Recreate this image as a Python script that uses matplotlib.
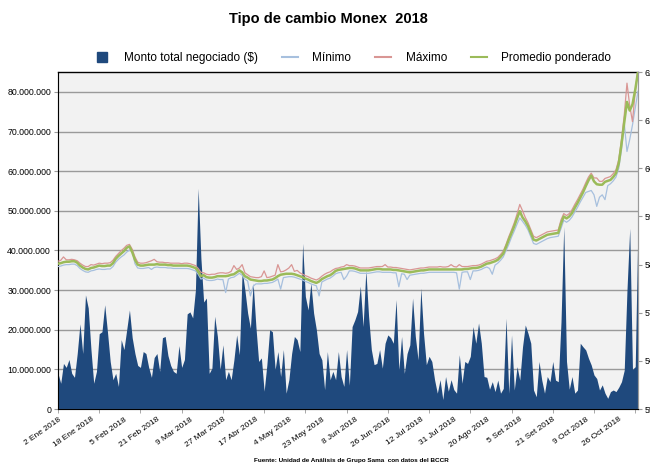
import numpy as np
import matplotlib
matplotlib.use('Agg')
import matplotlib.pyplot as plt
from matplotlib.lines import Line2D
from matplotlib.ticker import FuncFormatter, MultipleLocator

plt.rcParams['font.family'] = ['Liberation Sans', 'DejaVu Sans']

# Monto total negociado (millones de $), una entrada por día hábil
monto = [
    9.0, 6.5, 11.5, 10.5, 12.5, 9.0, 8.0, 14.0, 21.5, 14.0,
    28.8, 25.5, 15.0, 6.5, 9.5, 19.0, 19.5, 26.3, 19.5, 12.0,
    7.4, 9.0, 5.7, 17.5, 15.0, 20.0, 25.0, 18.0, 14.0, 11.0,
    10.5, 14.5, 14.0, 10.5, 8.0, 13.0, 14.0, 9.5, 18.0, 18.3,
    13.5, 11.0, 9.5, 9.0, 16.0, 10.5, 12.5, 24.0, 24.5, 23.0,
    30.0, 55.7, 38.0, 27.0, 28.0, 9.0, 10.3, 23.4, 18.3, 10.0,
    16.2, 7.4, 9.5, 7.4, 12.4, 18.7, 13.7, 35.0, 30.0, 24.2,
    20.4, 31.8, 20.8, 12.0, 12.9, 4.5, 11.2, 20.0, 19.5, 10.0,
    14.5, 8.2, 15.0, 4.0, 7.4, 14.0, 18.3, 17.5, 14.5, 41.8,
    28.4, 25.0, 31.8, 24.2, 20.0, 14.0, 12.4, 4.9, 14.5, 7.4,
    9.5, 7.4, 14.5, 8.2, 5.7, 15.0, 6.0, 20.8, 22.5, 24.6,
    31.0, 20.8, 35.0, 23.4, 15.0, 11.2, 11.5, 15.0, 10.3, 16.6,
    18.7, 18.0, 16.6, 27.6, 9.9, 18.3, 9.0, 14.0, 16.2, 28.0,
    18.3, 12.4, 30.5, 19.0, 11.2, 13.3, 12.0, 7.4, 4.0, 7.4,
    2.4, 8.2, 4.5, 7.4, 4.9, 4.0, 13.7, 6.5, 12.0, 11.5,
    13.3, 20.8, 16.6, 21.7, 16.6, 8.2, 8.0, 5.0, 6.9, 4.4,
    7.3, 4.0, 5.2, 22.9, 4.0, 18.7, 4.8, 10.7, 7.3, 15.7,
    21.2, 19.1, 16.6, 4.8, 3.1, 12.0, 7.3, 4.0, 8.2, 6.9,
    12.0, 7.3, 6.9, 22.0, 46.0, 12.0, 5.0, 8.2, 4.0, 4.8,
    16.6, 15.7, 14.9, 12.8, 11.1, 8.6, 7.7, 4.8, 6.1, 4.0,
    2.7, 4.4, 4.8, 4.4, 5.5, 6.9, 9.8, 30.0, 45.6, 10.0,
    10.7, 47.0,
]

minimo = [
    579.6, 579.7, 579.9, 580.0, 580.0, 580.1, 580.1, 579.8, 579.2, 578.8,
    578.5, 578.4, 578.7, 578.8, 579.0, 579.1, 579.0, 579.0, 579.1, 579.1,
    579.6, 580.5, 581.1, 581.6, 582.0, 582.6, 583.0, 583.1, 580.2, 579.3,
    579.2, 579.2, 579.3, 579.4, 579.0, 579.4, 579.5, 579.4, 579.4, 579.4,
    579.3, 579.3, 579.2, 579.2, 579.2, 579.2, 579.2, 579.2, 579.1, 578.9,
    578.7, 578.0, 577.0, 577.2, 576.8, 576.7, 576.7, 576.8, 577.0, 576.9,
    576.9, 574.2, 577.0, 577.3, 577.4, 577.8, 578.2, 577.8, 577.0, 576.6,
    573.5, 575.5, 576.0, 576.0, 576.0, 576.1, 576.1, 576.2, 576.3, 576.6,
    577.0, 574.9, 577.3, 577.4, 577.5, 577.5, 577.4, 577.2, 577.0, 576.8,
    576.5, 576.3, 576.0, 575.8, 575.6, 573.5, 576.4, 576.7, 577.0, 577.2,
    577.6, 578.1, 578.3, 578.4, 576.9, 577.6, 578.7, 578.7, 578.6, 578.4,
    578.2, 578.2, 578.2, 578.2, 578.3, 578.4, 578.5, 578.5, 578.4, 578.4,
    578.4, 578.4, 578.3, 578.3, 575.4, 578.1, 578.0, 576.9, 577.8, 577.9,
    578.0, 578.1, 578.2, 578.2, 578.3, 578.4, 578.4, 578.4, 578.4, 578.4,
    578.4, 578.4, 578.4, 578.4, 578.4, 578.3, 574.9, 578.4, 578.5, 578.5,
    576.9, 578.7, 578.7, 578.8, 579.0, 579.3, 579.5, 579.2, 578.0, 579.9,
    580.3, 580.9, 581.6, 582.9, 584.2, 585.7, 587.0, 588.4, 589.7, 589.0,
    588.2, 587.2, 585.8, 584.4, 584.2, 584.5, 584.8, 585.1, 585.4, 585.6,
    585.7, 585.8, 585.9, 587.5, 589.2, 588.8, 589.2, 589.9, 590.9, 591.9,
    593.0, 594.0, 595.0, 595.2, 595.4, 594.5, 592.1, 594.0, 594.5, 593.5,
    596.4, 596.8, 597.4, 598.2, 600.0, 603.8, 609.4, 603.5, 606.0, 609.0,
    612.5, 616.0,
]

maximo = [
    580.7, 580.9, 581.6, 581.0, 581.0, 581.1, 581.0, 580.8, 580.3, 579.9,
    579.6, 579.6, 580.0, 579.9, 580.1, 580.3, 580.2, 580.3, 580.3, 580.4,
    580.9, 581.7, 582.3, 582.9, 583.4, 584.0, 584.2, 583.2, 581.6, 580.5,
    580.3, 580.3, 580.4, 580.6, 580.8, 581.1, 580.6, 580.5, 580.5, 580.4,
    580.4, 580.3, 580.3, 580.3, 580.3, 580.2, 580.3, 580.3, 580.2, 580.0,
    579.8, 579.2, 578.4, 578.3, 578.0, 577.9, 578.0, 578.0, 578.2, 578.3,
    578.3, 578.2, 578.3, 578.6, 579.8, 579.0, 579.3, 580.0, 578.3, 577.9,
    577.5, 577.4, 577.3, 577.3, 577.5, 578.7, 577.3, 577.4, 577.6, 577.8,
    580.0, 578.5, 578.6, 578.9, 579.3, 580.0, 578.6, 578.8, 578.3, 578.0,
    577.7, 577.5, 577.2, 577.0, 576.8, 577.1, 577.6, 578.0, 578.3, 578.5,
    578.9, 579.2, 579.3, 579.5, 579.6, 580.0, 579.8, 579.8, 579.7, 579.5,
    579.3, 579.3, 579.3, 579.3, 579.4, 579.5, 579.6, 579.6, 579.6, 580.0,
    579.5, 579.5, 579.4, 579.4, 579.3, 579.2, 579.1, 579.0, 578.9, 579.0,
    579.1, 579.2, 579.3, 579.3, 579.4, 579.5, 579.5, 579.5, 579.5, 579.6,
    579.5, 579.5, 579.6, 580.0, 579.6, 579.5, 580.0, 579.6, 579.6, 579.6,
    579.7, 579.8, 579.8, 579.9, 580.1, 580.4, 580.7, 580.8, 581.0, 581.2,
    581.5, 582.1, 582.8, 584.2, 585.8, 587.2, 588.7, 590.5, 592.5, 591.2,
    589.8, 588.7, 587.3, 585.9, 585.6, 585.9, 586.2, 586.5, 586.8, 586.9,
    587.0, 587.1, 587.2, 589.3, 590.6, 590.2, 590.6, 591.4, 592.5, 593.5,
    594.6, 595.7, 597.0, 598.2, 599.0, 598.0, 598.0, 597.3, 597.3, 597.9,
    598.1, 598.3, 598.9, 599.7, 601.8, 606.0, 611.0, 617.7, 613.0, 609.7,
    616.0, 620.5,
]

promedio = [
    580.2, 580.3, 580.5, 580.6, 580.6, 580.7, 580.7, 580.4, 579.8, 579.4,
    579.1, 579.0, 579.3, 579.4, 579.6, 579.8, 579.7, 579.7, 579.8, 579.8,
    580.3, 581.2, 581.8, 582.3, 582.8, 583.5, 583.8, 582.6, 581.0, 580.0,
    579.8, 579.8, 579.9, 580.0, 580.0, 580.0, 580.1, 580.0, 580.0, 580.0,
    579.9, 579.9, 579.8, 579.8, 579.8, 579.8, 579.8, 579.8, 579.7, 579.5,
    579.3, 578.6, 577.6, 577.8, 577.4, 577.3, 577.3, 577.4, 577.6, 577.6,
    577.6, 577.6, 577.7, 577.9, 578.0, 578.4, 578.8, 578.4, 577.6, 577.3,
    576.9, 576.8, 576.7, 576.6, 576.6, 576.7, 576.7, 576.8, 576.9, 577.2,
    577.6, 577.9, 578.0, 578.1, 578.1, 578.1, 578.0, 577.8, 577.6, 577.4,
    577.1, 576.9, 576.6, 576.4, 576.2, 576.5, 577.0, 577.3, 577.6, 577.8,
    578.2, 578.7, 578.9, 579.0, 579.1, 579.2, 579.3, 579.3, 579.2, 579.0,
    578.8, 578.8, 578.8, 578.8, 578.9, 579.0, 579.1, 579.1, 579.0, 579.0,
    579.0, 579.0, 578.9, 578.9, 578.8, 578.7, 578.6, 578.5, 578.4, 578.5,
    578.6, 578.7, 578.8, 578.8, 578.9, 579.0, 579.0, 579.0, 579.0, 579.0,
    579.0, 579.0, 579.0, 579.0, 579.0, 579.0, 579.0, 579.0, 579.1, 579.1,
    579.2, 579.3, 579.3, 579.4, 579.6, 579.9, 580.2, 580.3, 580.5, 580.7,
    581.0, 581.6, 582.3, 583.7, 585.2, 586.6, 588.0, 589.6, 591.1, 589.8,
    589.0, 588.0, 586.6, 585.2, 585.0, 585.3, 585.6, 585.9, 586.2, 586.3,
    586.4, 586.5, 586.6, 588.5, 590.0, 589.6, 590.0, 590.7, 591.8, 592.8,
    593.9, 595.0, 596.3, 597.5, 598.5, 597.3, 596.7, 596.6, 596.6, 597.2,
    597.4, 597.6, 598.2, 599.0, 601.0, 605.0, 609.5, 613.8, 612.0, 613.3,
    616.3, 620.0,
]

# etiquetas del eje x (cada 12 días hábiles)
fechas = ['2 Ene 2018', '18 Ene 2018', '5 Feb 2018', '21 Feb 2018', '9 Mar 2018',
          '27 Mar 2018', '17 Abr 2018', '4 May 2018', '23 May 2018', '8 Jun 2018',
          '26 Jun 2018', '12 Jul 2018', '31 Jul 2018', '20 Ago 2018', '5 Set 2018',
          '21 Set 2018', '9 Oct 2018', '26 Oct 2018']
paso_etiqueta = 12
paso_marca = 15

c_area = '#1F497D'
c_min = '#A7C0DE'
c_max = '#D99694'
c_prom = '#9BBB59'

x = np.arange(len(monto))
fig = plt.figure(figsize=(6.5, 4.68), dpi=100)
ax = fig.add_axes([0.0892, 0.126, 0.8923, 0.72])
ax.set_facecolor('#F2F2F2')

ax.fill_between(x, 0, np.array(monto) * 1e6, color=c_area, lw=0, zorder=2)
ax.set_ylim(0, 85e6)
ax.set_xlim(0, len(monto) - 1)
ax.yaxis.set_major_locator(MultipleLocator(10e6))
ax.yaxis.set_major_formatter(FuncFormatter(lambda v, p: f'{v:,.0f}'.replace(',', '.')))
ax.grid(axis='y', color='#9A9A9A', lw=1.0)
ax.set_axisbelow(True)
ax.tick_params(axis='y', labelsize=6.3, length=3, color='#9A9A9A', pad=2)

# etiquetas como marcas mayores sin trazo, marcas visibles cada 15 días
ax.xaxis.remove_overlapping_locs = False
ax.set_xticks(np.arange(len(fechas)) * paso_etiqueta)
ax.set_xticklabels(fechas, rotation=35, ha='right', rotation_mode='anchor', fontsize=6)
ax.set_xticks(np.arange(0, len(monto), paso_marca), minor=True)
ax.tick_params(axis='x', which='major', length=0, pad=5)
ax.tick_params(axis='x', which='minor', length=3, color='#9A9A9A')

for s in ['left', 'bottom', 'right']:
    ax.spines[s].set_color('#9A9A9A')
ax.spines['top'].set_color('black')
ax.spines['top'].set_linewidth(1.0)

ax2 = ax.twinx()
ax2.plot(x, minimo, color=c_min, lw=0.9, zorder=3)
ax2.plot(x, maximo, color=c_max, lw=0.9, zorder=3)
ax2.plot(x, promedio, color=c_prom, lw=1.8, zorder=4)
ax2.set_ylim(550, 620)
ax2.yaxis.set_major_locator(MultipleLocator(10))
ax2.tick_params(axis='y', labelsize=6.3, length=3, color='#9A9A9A', pad=2)
ax2.spines['right'].set_color('#9A9A9A')
ax2.spines['top'].set_visible(False)

fig.text(0.505, 0.96, 'Tipo de cambio Monex  2018', ha='center', va='center',
         fontsize=10.5, fontweight='bold')

handles = [
    Line2D([], [], marker='s', ls='none', color=c_area, markersize=7),
    Line2D([], [], color=c_min, lw=1.5),
    Line2D([], [], color=c_max, lw=1.5),
    Line2D([], [], color=c_prom, lw=1.5),
]
fig.legend(handles, ['Monto total negociado ($)', 'Mínimo', 'Máximo', 'Promedio ponderado'],
           loc='center', bbox_to_anchor=(0.542, 0.876), ncol=4, frameon=False,
           fontsize=8.5, handlelength=1.4, handletextpad=1.2, columnspacing=2.0)

fig.text(0.54, 0.01, 'Fuente: Unidad de Análisis de Grupo Sama  con datos del BCCR',
         ha='center', va='bottom', fontsize=4.6, fontweight='bold')

fig.savefig('out.png', dpi=100)
